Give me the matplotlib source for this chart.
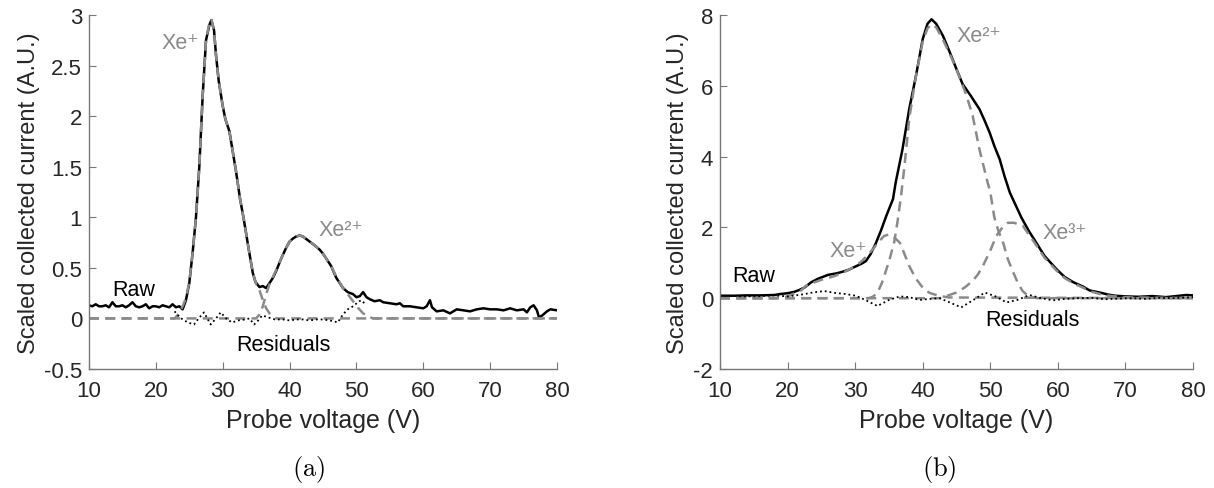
import numpy as np
import matplotlib
matplotlib.use('Agg')
import matplotlib.pyplot as plt

plt.rcParams['font.family'] = ['Liberation Sans', 'DejaVu Sans']
plt.rcParams['axes.unicode_minus'] = False

GRAY = '#8a8a8a'
AXC = '#777777'
TXT = '#262626'

# ---- panel (a) ----
raw_a_x = [10, 10.5, 11, 11.5, 12, 12.5, 13, 13.5, 14, 14.5, 15, 15.5, 16, 16.5, 17, 17.5, 18, 18.5,
           19, 19.5, 20, 20.5, 21, 21.5, 22, 22.5, 23, 23.5, 24, 24.5, 25, 25.5, 26, 26.5, 27, 27.5,
           28, 28.3, 28.7, 29, 29.4, 30, 30.4, 31, 31.2, 32, 32.6, 33.1, 33.9, 34.5, 34.9, 35.5, 36,
           36.5, 37, 37.5, 38, 38.8, 39.5, 40, 40.5, 41, 41.5, 42, 43, 43.8, 44.5, 45, 46.2, 47, 48,
           48.7, 49.5, 50, 50.5, 51, 51.5, 52, 52.7, 53.5, 54, 55, 56, 56.5, 57, 58, 59, 60, 60.5, 61,
           61.3, 62, 63, 64, 64.5, 65, 66, 67, 68, 69, 70, 71, 72, 73, 74, 75, 75.5, 76, 76.5, 77,
           77.3, 77.8, 78.5, 79, 80]
raw_a_y = [0.13, 0.12, 0.14, 0.12, 0.12, 0.13, 0.11, 0.16, 0.12, 0.12, 0.13, 0.11, 0.13, 0.16, 0.12, 0.11,
           0.12, 0.14, 0.10, 0.12, 0.12, 0.11, 0.13, 0.12, 0.11, 0.14, 0.11, 0.12, 0.09, 0.18, 0.35, 0.65,
           1.0, 1.5, 2.2, 2.75, 2.9, 2.95, 2.85, 2.6, 2.35, 2.1, 1.97, 1.85, 1.77, 1.45, 1.18, 1.0, 0.68,
           0.45, 0.36, 0.31, 0.32, 0.30, 0.35, 0.40, 0.47, 0.6, 0.7, 0.76, 0.79, 0.81, 0.82, 0.81, 0.76,
           0.72, 0.68, 0.64, 0.52, 0.4, 0.3, 0.26, 0.24, 0.21, 0.22, 0.26, 0.21, 0.19, 0.17, 0.18, 0.16,
           0.15, 0.14, 0.15, 0.12, 0.12, 0.11, 0.10, 0.12, 0.18, 0.11, 0.07, 0.08, 0.05, 0.07, 0.09, 0.08,
           0.07, 0.09, 0.10, 0.09, 0.09, 0.08, 0.10, 0.08, 0.09, 0.06, 0.11, 0.13, 0.08, 0.01, 0.03, 0.07,
           0.09, 0.08]

fit1_a_x = [10, 22.8, 23.5, 24, 24.5, 25, 25.5, 26, 26.5, 27, 27.5, 28, 28.3, 28.7, 29, 29.4, 30, 30.4,
            31, 31.2, 32, 32.6, 33.1, 33.9, 34.5, 35, 35.5, 36, 36.5, 37, 37.5, 38, 80]
fit1_a_y = [0, 0, 0.05, 0.12, 0.2, 0.36, 0.65, 1.0, 1.5, 2.2, 2.75, 2.92, 2.96, 2.85, 2.6, 2.35, 2.1, 1.97,
            1.85, 1.77, 1.45, 1.18, 1.0, 0.68, 0.45, 0.34, 0.28, 0.18, 0.1, 0.05, 0.02, 0, 0]

fit2_a_x = [10, 35, 35.5, 36, 36.5, 37, 37.5, 38, 38.8, 39.5, 40, 40.5, 41, 41.5, 42, 43, 43.8, 44.5, 45,
            46.2, 47, 48, 48.7, 49.5, 50.3, 51, 51.7, 52.5, 80]
fit2_a_y = [0, 0, 0.04, 0.12, 0.24, 0.34, 0.41, 0.48, 0.6, 0.7, 0.76, 0.79, 0.81, 0.82, 0.81, 0.76, 0.72,
            0.68, 0.64, 0.52, 0.41, 0.3, 0.24, 0.17, 0.1, 0.05, 0.02, 0, 0]

res_a_x = [22.8, 23.3, 24, 24.8, 25.7, 26.4, 27.2, 27.7, 28.2, 29, 29.7, 30.5, 31.4, 32.3, 33.4, 34, 34.7,
           35.3, 35.9, 36.8, 37.8, 39, 40, 41, 42, 43, 44, 45, 46, 46.7, 47.2, 48, 48.7, 49.5, 50.2, 50.7, 51.2]
res_a_y = [0.07, 0.03, -0.01, -0.04, -0.06, 0.0, 0.06, 0.0, -0.06, 0.0, 0.06, 0.0, -0.04, -0.02, -0.01, 0.0,
           -0.06, -0.02, 0.03, 0.01, -0.01, -0.01, -0.02, -0.01, -0.01, -0.02, -0.01, -0.01, -0.02, -0.03,
           -0.04, 0.04, 0.09, 0.12, 0.16, 0.18, 0.15]

# ---- panel (b) ----
raw_b_x = [10, 12, 14, 16, 18, 19, 20, 21, 21.7, 22.5, 23.5, 24.5, 25.2, 26, 27.2, 28, 29, 30.1, 31, 31.6,
           32.3, 33.1, 33.8, 34.6, 35.6, 36, 37, 38, 39, 40, 40.7, 41.3, 42, 43, 44, 45, 45.9, 47, 48.4,
           49.2, 49.9, 50.6, 51.4, 52.1, 52.9, 54.6, 55.7, 56.8, 58, 59.8, 61, 62.3, 63.7, 64.7, 66.2,
           67.5, 68.5, 70.2, 72, 74, 76, 77, 78, 79, 80]
raw_b_y = [0.07, 0.07, 0.08, 0.08, 0.09, 0.12, 0.14, 0.18, 0.23, 0.3, 0.45, 0.55, 0.6, 0.66, 0.7, 0.74, 0.8,
           0.9, 0.98, 1.05, 1.25, 1.57, 1.9, 2.32, 2.8, 3.27, 4.2, 5.34, 6.28, 7.32, 7.75, 7.88, 7.75, 7.41,
           6.95, 6.47, 6.05, 5.75, 5.34, 5.0, 4.68, 4.3, 3.92, 3.45, 2.98, 2.28, 1.9, 1.57, 1.2, 0.82, 0.6,
           0.45, 0.33, 0.22, 0.16, 0.1, 0.07, 0.05, 0.04, 0.06, 0.03, 0.05, 0.07, 0.09, 0.08]

fit1_b_x = [10, 18, 20, 22, 22.7, 24, 25, 26.7, 28, 29, 30.1, 31, 32, 32.6, 33.5, 34.3, 35, 35.6, 36.6,
            37.3, 38, 39, 40, 41, 42.5, 44, 80]
fit1_b_y = [0, 0, 0.05, 0.22, 0.35, 0.45, 0.52, 0.61, 0.7, 0.8, 0.91, 1.05, 1.25, 1.38, 1.6, 1.76, 1.8,
            1.75, 1.57, 1.25, 0.91, 0.55, 0.3, 0.15, 0.06, 0.02, 0]

fit2_b_x = [10, 32, 32.6, 33.3, 34, 34.6, 35.1, 35.8, 36.3, 36.8, 37.3, 38, 39, 40, 40.7, 41.3, 42, 43,
            44, 45, 46.5, 47.4, 48.4, 49.6, 50.0, 50.6, 51.2, 51.9, 52.6, 53.4, 54.1, 54.8, 55.5, 56.3, 57, 80]
fit2_b_y = [0, 0, 0.04, 0.15, 0.45, 0.8, 1.1, 1.6, 2.2, 2.9, 3.73, 5.06, 6.28, 7.25, 7.62, 7.74, 7.65,
            7.3, 6.9, 6.47, 5.71, 5.15, 4.2, 3.27, 3.0, 2.28, 1.9, 1.57, 1.1, 0.73, 0.42, 0.2, 0.08, 0.03, 0, 0]

fit3_b_x = [10, 42.5, 43.5, 45, 46.2, 47.4, 48.2, 48.9, 49.9, 50.9, 51.8, 52.6, 53.5, 54.8, 55.7, 56.8,
            58, 59.8, 61, 62.3, 63.7, 64.7, 66.2, 67.5, 69, 71, 80]
fit3_b_y = [0, 0, 0.06, 0.16, 0.3, 0.49, 0.68, 0.91, 1.3, 1.76, 2.0, 2.13, 2.13, 2.05, 1.8, 1.5, 1.15,
            0.78, 0.57, 0.42, 0.3, 0.2, 0.12, 0.07, 0.04, 0.02, 0]

res_b_x = [10, 12, 14, 16, 18, 20, 22, 24, 25.5, 27, 28.5, 30.1, 31.5, 33.3, 35, 36.6, 38, 39.5, 41, 42.5,
           44, 45.7, 47.5, 49.2, 50.8, 52.4, 54, 55.8, 57.5, 59.3, 61, 63, 65, 67, 69, 71, 73, 75, 77, 79, 80]
res_b_y = [0.07, 0.06, 0.05, 0.06, 0.08, 0.05, 0.1, 0.17, 0.2, 0.15, 0.12, 0.07, -0.05, -0.22, -0.05, 0.05,
           0.03, -0.05, -0.02, 0.0, -0.12, -0.26, -0.05, 0.16, 0.05, -0.12, -0.05, 0.09, 0.0, -0.06, -0.02,
           0.0, 0.01, -0.03, -0.01, 0.0, -0.02, 0.01, 0.0, 0.02, 0.03]

fig = plt.figure(figsize=(12.14, 4.89), dpi=100)
ax1 = fig.add_axes([89 / 1214, 1 - 370 / 489, 468 / 1214, 354 / 489])
ax2 = fig.add_axes([720 / 1214, 1 - 370 / 489, 473 / 1214, 354 / 489])

dash = (4, 2.5)


def style(ax, ylim, yticks, yticklabels):
    ax.set_xlim(10, 80)
    ax.set_ylim(*ylim)
    ax.set_xticks(range(10, 81, 10))
    ax.set_yticks(yticks)
    ax.set_yticklabels(yticklabels)
    for s in ['top', 'right']:
        ax.spines[s].set_visible(False)
    for s in ['left', 'bottom']:
        ax.spines[s].set_color(AXC)
        ax.spines[s].set_linewidth(1.0)
    ax.tick_params(direction='in', length=5, width=0.8, color=AXC, labelsize=16,
                   labelcolor=TXT)
    ax.tick_params(axis='x', pad=8)
    ax.tick_params(axis='y', pad=5)
    ax.set_xlabel('Probe voltage (V)', fontsize=18, color=TXT, labelpad=5)
    ax.set_ylabel('Scaled collected current (A.U.)', fontsize=17, color=TXT, labelpad=3)


# panel a
ax1.plot(raw_a_x, raw_a_y, color='black', lw=1.8)
ax1.plot(fit1_a_x, fit1_a_y, color=GRAY, lw=1.8, ls='--', dashes=dash)
ax1.plot(fit2_a_x, fit2_a_y, color=GRAY, lw=1.8, ls='--', dashes=dash)
ax1.plot(res_a_x, res_a_y, color='black', lw=1.3, ls=':')
style(ax1, (-0.5, 3), [-0.5, 0, 0.5, 1, 1.5, 2, 2.5, 3],
      ['-0.5', '0', '0.5', '1', '1.5', '2', '2.5', '3'])
ax1.text(13.5, 0.29, 'Raw', fontsize=15.5, color='black', va='center')
ax1.text(26.5, 2.73, 'Xe⁺', fontsize=15.5, color=GRAY, va='center', ha='right')
ax1.text(44.3, 0.88, 'Xe²⁺', fontsize=15.5, color=GRAY, va='center')
ax1.text(32.0, -0.26, 'Residuals', fontsize=15.5, color='black', va='center')

# panel b
ax2.plot(raw_b_x, raw_b_y, color='black', lw=1.8)
ax2.plot(fit1_b_x, fit1_b_y, color=GRAY, lw=1.8, ls='--', dashes=dash)
ax2.plot(fit2_b_x, fit2_b_y, color=GRAY, lw=1.8, ls='--', dashes=dash)
ax2.plot(fit3_b_x, fit3_b_y, color=GRAY, lw=1.8, ls='--', dashes=dash)
ax2.plot(res_b_x, res_b_y, color='black', lw=1.3, ls=':')
style(ax2, (-2, 8), [-2, 0, 2, 4, 6, 8], ['-2', '0', '2', '4', '6', '8'])
ax2.text(11.8, 0.64, 'Raw', fontsize=15.5, color='black', va='center')
ax2.text(29.0, 1.34, 'Xe⁺', fontsize=15.5, color=GRAY, va='center', ha='center')
ax2.text(45.0, 7.43, 'Xe²⁺', fontsize=15.5, color=GRAY, va='center')
ax2.text(57.8, 1.86, 'Xe³⁺', fontsize=15.5, color=GRAY, va='center')
ax2.text(49.2, -0.6, 'Residuals', fontsize=15.5, color='black', va='center')

fig.text(309 / 1214, 1 - 470 / 489, r'$\mathrm{(a)}$', fontsize=19, ha='center', va='center',
         math_fontfamily='cm')
fig.text(939 / 1214, 1 - 470 / 489, r'$\mathrm{(b)}$', fontsize=19, ha='center', va='center',
         math_fontfamily='cm')

fig.savefig('out.png', dpi=100)
